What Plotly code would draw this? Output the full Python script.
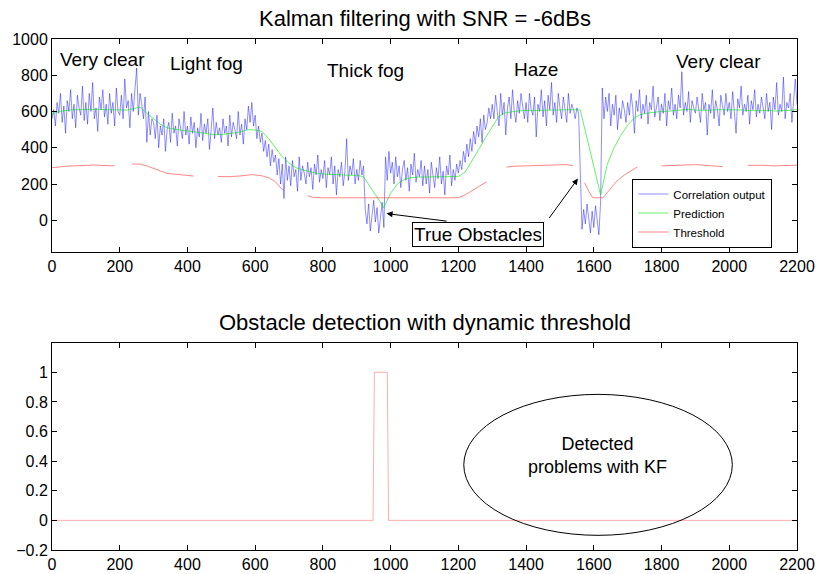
import plotly.graph_objects as go

# ---------------- data ----------------
corr_step = 5
corr_output = [
    560, 610, 520, 650, 590, 700, 540, 630, 480, 660, 600, 720, 560, 640, 510, 690, 620, 580, 740, 550,
    650, 530, 700, 600, 760, 560, 620, 490, 680, 610, 720, 570, 640, 530, 700, 590, 650, 520, 730, 600,
    580, 690, 560, 780, 620, 660, 510, 700, 600, 740, 840, 580, 700, 640, 560, 680, 430, 600, 470, 560,
    540, 450, 580, 400, 520, 470, 560, 380, 500, 540, 430, 590, 480, 520, 410, 560, 490, 450, 600, 470,
    520, 420, 570, 480, 540, 400, 510, 460, 590, 440, 530, 480, 560, 390, 500, 620, 450, 540, 470, 510,
    430, 560, 480, 520, 410, 580, 460, 540, 500, 450, 600, 470, 530, 420, 560, 500, 630, 540, 650, 520,
    580, 450, 520, 430, 480, 380, 440, 350, 420, 300, 390, 320, 360, 250, 340, 200, 310, 120, 350, 220,
    300, 190, 330, 240, 280, 160, 350, 220, 300, 260, 200, 320, 240, 290, 170, 310, 250, 360, 210, 280,
    230, 330, 180, 290, 250, 350, 200, 300, 140, 280, 240, 320, 190, 270, 450, 220, 300, 250, 340, 200,
    280, 220, 330, 250, 300, 60, -20, 90, -60, 40, 110, -10, 70, -70, 30, 100, -40, 350, 220, 380,
    260, 320, 200, 350, 240, 300, 180, 280, 330, 220, 290, 160, 310, 250, 370, 210, 280, 240, 330, 190,
    300, 200, 280, 150, 320, 240, 180, 290, 230, 350, 200, 270, 140, 300, 250, 360, 190, 280, 220, 310,
    260, 330, 280, 380, 320, 420, 350, 450, 380, 490, 420, 520, 460, 560, 430, 580, 500, 540, 620, 560,
    640, 560, 690, 600, 520, 700, 580, 650, 470, 620, 680, 560, 720, 600, 540, 660, 590, 700, 620, 560,
    650, 540, 700, 610, 580, 680, 460, 640, 600, 720, 570, 660, 520, 690, 610, 760, 580, 650, 540, 700,
    620, 560, 680, 600, 540, 700, 590, 640, 610, 560, 620, 590, 200, -50, 60, -20, 90, 0, -70, 50,
    -40, 80, 10, -80, 100, 730, 560, 680, 600, 700, 520, 640, 580, 690, 500, 620, 560, 660, 610, 540,
    650, 580, 700, 620, 480, 660, 600, 720, 560, 640, 590, 690, 530, 650, 610, 740, 570, 630, 680, 550,
    640, 590, 700, 520, 660, 610, 730, 580, 640, 560, 690, 620, 820, 580, 650, 600, 710, 540, 660, 620,
    590, 680, 620, 540, 700, 610, 650, 470, 640, 590, 720, 560, 660, 610, 520, 690, 630, 580, 700, 600,
    650, 560, 710, 600, 480, 670, 620, 740, 580, 640, 600, 690, 530, 660, 610, 720, 570, 640, 590, 680,
    620, 560, 700, 600, 650, 500, 680, 610, 760, 580, 640, 600, 790, 560, 650, 620, 700, 540, 660, 780,
    640,
]
corr_x = list(range(0, 2201, corr_step))

pred_step = 20
prediction = [
    585, 600, 605, 610, 610, 612, 613, 612, 610, 608,
    607, 608, 615, 625, 590, 560, 530, 510, 502, 497,
    493, 488, 483, 477, 472, 473, 476, 482, 490, 500,
    498, 490, 450, 400, 350, 315, 290, 278, 268, 260,
    255, 252, 252, 250, 248, 248, 240, 185, 125, 70,
    150, 200, 225, 235, 238, 240, 240, 240, 240, 240,
    242, 265, 325, 390, 455, 515, 575, 593, 600, 604,
    605, 606, 605, 608, 610, 610, 608, 610, 608, 450,
    290, 140, 310, 400, 470, 525, 565, 585, 592, 597,
    600, 602, 605, 610, 612, 608, 606, 607, 610, 610,
    608, 610, 608, 605, 605, 607, 605, 602, 605, 608,
    610,
]
pred_x = list(range(0, 2201, pred_step))

thr_x = [0, 20, 40, 60, 80, 100, 120, 140, 160, 185, 210,
         236, 260, 280, 300, 320, 340, 360, 380, 400, 418, 450,
         490, 520, 560, 590, 620, 640, 660, 682, 720,
         755, 770, 800, 900, 1000, 1100, 1200, 1220, 1250, 1283, 1310,
         1342, 1360, 1400, 1440, 1480, 1500, 1520, 1538, 1555,
         1573, 1585, 1597, 1627, 1645, 1665, 1690, 1710, 1728, 1760,
         1800, 1840, 1870, 1900, 1930, 1960, 1981, 2020,
         2055, 2080, 2100, 2130, 2160, 2200]
threshold = [290, 295, 298, 300, 300, 302, 305, 303, 300, 300, None,
             310, 310, 300, 285, 270, 258, 255, 252, 248, 244, None,
             242, 240, 245, 252, 245, 235, 212, 165, None,
             136, 126, 124, 124, 124, 124, 124, 140, 175, 212, None,
             293, 298, 300, 303, 302, 305, 307, 302, None,
             207, 160, 124, 124, 165, 210, 250, 275, 293, None,
             300, 302, 305, 307, 303, 300, 296, None,
             303, 305, 303, 300, 302, 304]

det_x = [0, 948, 952, 990, 994, 2200]
detection = [0, 0, 1, 1, 0, 0]

region_labels = ["Very clear", "Light fog", "Thick fog", "Haze", "Very clear"]
region_x = [150, 456, 926, 1428, 1969]
region_y = [885, 864, 826, 831, 877]

top_yticks = [0, 200, 400, 600, 800, 1000]
bot_yticks = [-0.2, 0, 0.2, 0.4, 0.6, 0.8, 1]
xticks = list(range(0, 2201, 200))

assert len(corr_output) == len(corr_x)
assert len(prediction) == len(pred_x)
assert len(threshold) == len(thr_x)

FONT = "Liberation Sans, Arial, Helvetica, sans-serif"

fig = go.Figure()
fig.add_trace(go.Scatter(x=corr_x, y=corr_output, mode="lines", name="Correlation output",
                         line=dict(color="rgba(20,20,255,0.6)", width=0.8), xaxis="x", yaxis="y"))
fig.add_trace(go.Scatter(x=pred_x, y=prediction, mode="lines", name="Prediction",
                         line=dict(color="rgba(0,230,0,0.75)", width=0.8), xaxis="x", yaxis="y"))
fig.add_trace(go.Scatter(x=thr_x, y=threshold, mode="lines", name="Threshold", connectgaps=False,
                         line=dict(color="rgba(255,40,40,0.7)", width=0.8), xaxis="x", yaxis="y"))
fig.add_trace(go.Scatter(x=det_x, y=detection, mode="lines", showlegend=False,
                         line=dict(color="rgba(255,110,110,0.7)", width=0.8), xaxis="x2", yaxis="y2"))

axis_common = dict(showline=True, linecolor="black", linewidth=1, mirror="ticks",
                   ticks="inside", ticklen=5, tickcolor="black", showgrid=False, zeroline=False,
                   automargin=False,
                   tickfont=dict(family=FONT, size=16, color="black"))

fig.update_layout(
    width=816, height=574,
    margin=dict(l=52, r=19, t=39, b=24, autoexpand=False),
    paper_bgcolor="white", plot_bgcolor="white",
    xaxis=dict(domain=[0, 1], range=[0, 2200], tickvals=xticks, anchor="y", **axis_common),
    yaxis=dict(domain=[0.5832, 1], range=[-175, 1000], tickvals=top_yticks, anchor="x", **axis_common),
    xaxis2=dict(domain=[0, 1], range=[0, 2200], tickvals=xticks, anchor="y2", **axis_common),
    yaxis2=dict(domain=[0, 0.4057], range=[-0.2, 1.2], tickvals=bot_yticks, anchor="x2", **axis_common),
    legend=dict(x=0.779, y=0.727, xanchor="left", yanchor="top", bgcolor="white",
                bordercolor="black", borderwidth=1, font=dict(family=FONT, size=11.5, color="black"),
                tracegroupgap=0, itemwidth=30),
    showlegend=True,
)

annotations = []
annotations.append(dict(text="Kalman filtering with SNR = -6dBs", xref="paper", yref="paper",
                        x=0.5, y=1, yshift=21, xanchor="center", yanchor="middle", showarrow=False,
                        font=dict(family=FONT, size=22, color="black")))
annotations.append(dict(text="Obstacle detection with dynamic threshold", xref="paper", yref="paper",
                        x=0.5, y=0.4057, yshift=20, xanchor="center", yanchor="middle", showarrow=False,
                        font=dict(family=FONT, size=22, color="black")))
for lab, lx, ly in zip(region_labels, region_x, region_y):
    annotations.append(dict(text=lab, x=lx, y=ly, xref="x", yref="y", showarrow=False,
                            xanchor="center", yanchor="middle",
                            font=dict(family=FONT, size=19, color="black")))
# arrows
annotations.append(dict(text="", x=988, y=37, ax=1170, ay=-6, xref="x", yref="y", axref="x", ayref="y",
                        showarrow=True, arrowhead=2, arrowsize=1.2, arrowwidth=1, arrowcolor="black"))
annotations.append(dict(text="", x=1553, y=230, ax=1465, ay=4, xref="x", yref="y", axref="x", ayref="y",
                        showarrow=True, arrowhead=2, arrowsize=1.2, arrowwidth=1, arrowcolor="black"))
annotations.append(dict(text="True Obstacles", x=1257, y=-76, xref="x", yref="y", showarrow=False,
                        xanchor="center", yanchor="middle", bgcolor="white", bordercolor="black",
                        borderwidth=1, borderpad=1, font=dict(family=FONT, size=19, color="black")))
annotations.append(dict(text="Detected<br>problems with KF", x=1611, y=0.44, xref="x2", yref="y2",
                        showarrow=False, xanchor="center", yanchor="middle",
                        font=dict(family=FONT, size=18, color="black")))
fig.update_layout(annotations=annotations)

fig.add_shape(type="circle", xref="x2", yref="y2", x0=1216, x1=2009, y0=-0.101, y1=0.851,
              line=dict(color="black", width=1))

fig.write_html("out.html")
